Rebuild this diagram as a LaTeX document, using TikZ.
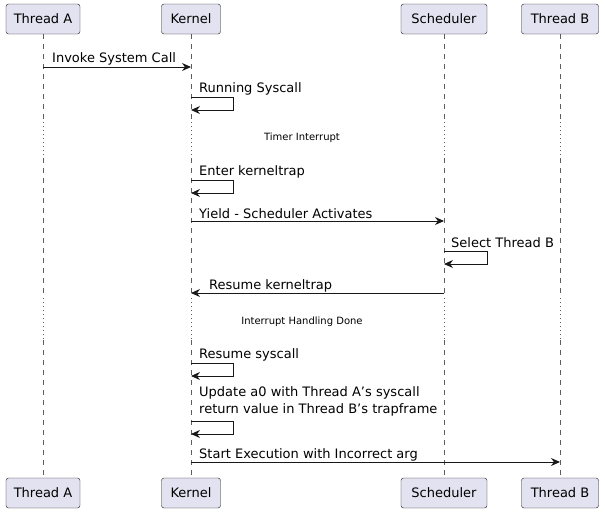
\documentclass[tikz,border=0pt]{standalone}
\usepackage{fontspec}
\setmainfont{DejaVu Sans}
\usetikzlibrary{arrows.meta}
\definecolor{pfill}{HTML}{E2E2F0}
\definecolor{pline}{HTML}{181818}
\begin{document}
\begin{tikzpicture}[x=1pt,y=-1pt,
  part/.style={draw=pline,fill=pfill,rounded corners=2.5pt,minimum height=30pt,inner sep=0pt,font=\fontsize{13}{15}\selectfont},
  life/.style={draw=pline!70,dash pattern=on 5pt off 5pt,line width=0.5pt},
  dot/.style={draw=pline!70,dash pattern=on 1pt off 3pt,line width=0.5pt},
  msg/.style={draw=pline,line width=0.9pt,-{Triangle[open,length=0pt]}},
  arr/.style={draw=pline,line width=0.9pt,-{Stealth[length=9pt,width=8pt]}},
  lab/.style={font=\fontsize{13}{15}\selectfont,anchor=base west,inner sep=0pt},
  note/.style={font=\fontsize{10}{12}\selectfont,inner sep=0pt}]
\useasboundingbox (0,0) rectangle (605,514);
\foreach \n/\x/\w/\t in {a/43/74/Thread A,k/191/59/Kernel,s/444/86/Scheduler,b/560/77/Thread B}{
  \node[part,minimum width=\w pt] (\n1) at (\x,19) {\t};
  \node[part,minimum width=\w pt] (\n2) at (\x,493) {\t};
  \coordinate (\n p1) at (\x,118); \coordinate (\n p2) at (\x,158);
  \coordinate (\n q1) at (\x,298); \coordinate (\n q2) at (\x,340);
  \draw[life] (\n1.south) -- (\n p1);
  \draw[dot] (\n p1) -- (\n p2);
  \draw[life] (\n p2) -- (\n q1);
  \draw[dot] (\n q1) -- (\n q2);
  \draw[life] (\n q2) -- (\n2.north);
}
% helper coordinates
\coordinate (m1a) at (43,67); \coordinate (m1b) at (191,67);
\draw[arr] (m1a) -- (m1b);
\node[lab] (t1) at (52,62) {Invoke System Call};
\node[lab] (t2) at (199,92) {Running Syscall};
\coordinate (l1) at (191,97); \coordinate (l1e) at (191,110);
\draw[arr] (l1) -- ++(42,0) -- ++(0,13) -- (l1e);
\node[note] (n1) at (302,138) {Timer Interrupt};
\node[lab] (t3) at (199,175) {Enter kerneltrap};
\coordinate (l2) at (191,180); \coordinate (l2e) at (191,193);
\draw[arr] (l2) -- ++(42,0) -- ++(0,13) -- (l2e);
\node[lab] (t4) at (199,218) {Yield - Scheduler Activates};
\coordinate (m4a) at (191,221); \coordinate (m4b) at (444,221);
\draw[arr] (m4a) -- (m4b);
\node[lab] (t5) at (451,247) {Select Thread B};
\coordinate (l3) at (444,251); \coordinate (l3e) at (444,264);
\draw[arr] (l3) -- ++(43,0) -- ++(0,13) -- (l3e);
\node[lab] (t6) at (209,289) {Resume kerneltrap};
\coordinate (m6a) at (444,293); \coordinate (m6b) at (191,293);
\draw[arr] (m6a) -- (m6b);
\node[note] (n2) at (302,322) {Interrupt Handling Done};
\node[lab] (t7) at (199,358) {Resume syscall};
\coordinate (l4) at (191,363); \coordinate (l4e) at (191,376);
\draw[arr] (l4) -- ++(42,0) -- ++(0,13) -- (l4e);
\node[lab] (t8) at (199,396) {Update a0 with Thread A's syscall};
\node[lab] (t9) at (199,413) {return value in Thread B's trapframe};
\coordinate (l5) at (191,421); \coordinate (l5e) at (191,434);
\draw[arr] (l5) -- ++(42,0) -- ++(0,13) -- (l5e);
\node[lab] (t10) at (199,458) {Start Execution with Incorrect arg};
\coordinate (m10a) at (191,462); \coordinate (m10b) at (560,462);
\draw[arr] (m10a) -- (m10b);
\end{tikzpicture}
\end{document}
